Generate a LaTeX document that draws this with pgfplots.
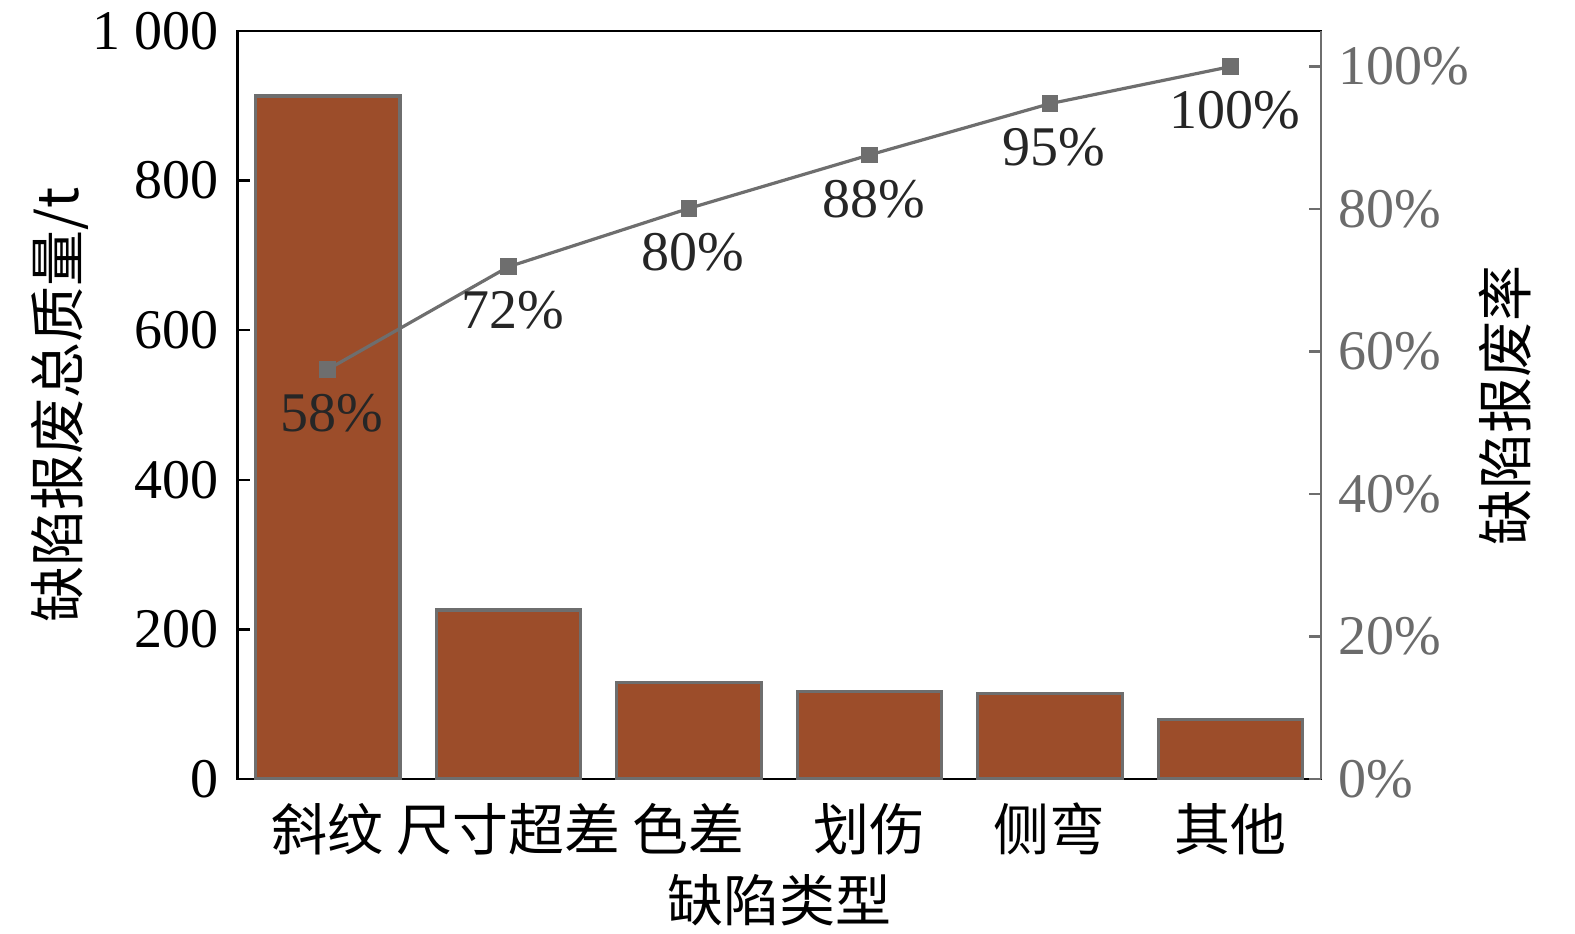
\documentclass[border=0pt]{standalone}
\usepackage{fontspec}
\setmainfont{Liberation Serif}
\newfontfamily\cjk{Noto Sans CJK SC}
\usepackage{pgfplots}
\pgfplotsset{compat=1.18}
\definecolor{barfill}{HTML}{9C4D2A}
\definecolor{edgegrey}{HTML}{6E6E6E}
\definecolor{labgrey}{HTML}{6B6B6B}
\newcommand{\fs}{\fontsize{14}{16}\selectfont}
\begin{document}
\begin{tikzpicture}
\useasboundingbox (-59pt,-39.5pt) rectangle (334.75pt,193.75pt);
\begin{axis}[
  at={(0.4pt,-1pt)}, anchor=south west,
  scale only axis, width=270.8pt, height=187pt,
  xmin=-0.5, xmax=5.5, ymin=0, ymax=1000,
  xtick={0,1,2,3,4,5},
  xticklabels={{\cjk 斜纹},{\cjk 尺寸超差},{\cjk 色差},{\cjk 划伤},{\cjk 侧弯},{\cjk 其他}},
  ytick={0,200,400,600,800,1000},
  yticklabels={0,200,400,600,800,1 000},
  xtick pos=bottom, ytick pos=left,
  tick align=inside, major tick length=3pt,
  tick style={black, line width=0.6pt},
  axis line style={black, line width=0.6pt},
  ticklabel style={font=\fs},
  yticklabel style={xshift=-1.3pt},
  xticklabel style={yshift=-2.5pt},
  xlabel={\cjk 缺陷类型}, ylabel={\cjk 缺陷报废总质量/t},
  label style={font=\fs},
  xlabel style={yshift=2pt},
  ylabel style={yshift=-6pt},
]
\addplot[ybar, bar width=0.8, fill=barfill, draw=edgegrey, line width=0.8pt]
  coordinates {(0,913) (1,226) (2,129) (3,117) (4,114) (5,80)};
\end{axis}
\begin{axis}[
  at={(0.4pt,-1pt)}, anchor=south west,
  scale only axis, width=270.8pt, height=187pt,
  xmin=-0.5, xmax=5.5, ymin=0, ymax=105,
  axis x line=none, axis y line*=right,
  ytick={0,20,40,60,80,100},
  yticklabels={0\%,20\%,40\%,60\%,80\%,100\%},
  tick align=inside, major tick length=3pt,
  tick style={edgegrey, line width=0.6pt},
  axis line style={edgegrey, line width=0.6pt},
  ticklabel style={font=\fs, text=labgrey},
  yticklabel style={xshift=1pt},
  ylabel={\cjk 缺陷报废率},
  label style={font=\fs},
  ylabel style={yshift=4.5pt},
]
\addplot[edgegrey, line width=0.8pt, mark=square*, mark size=1.7pt,
  mark options={fill=edgegrey},
  point meta=explicit symbolic, nodes near coords,
  every node near coord/.style={anchor=north, yshift=-2.5pt, xshift=1pt, font=\fs, text=black!85}]
  coordinates {(0,57.5) [58\%] (1,71.9) [72\%] (2,80.1) [80\%] (3,87.6) [88\%] (4,94.8) [95\%] (5,100) [100\%]};
\end{axis}
\end{tikzpicture}
\end{document}
